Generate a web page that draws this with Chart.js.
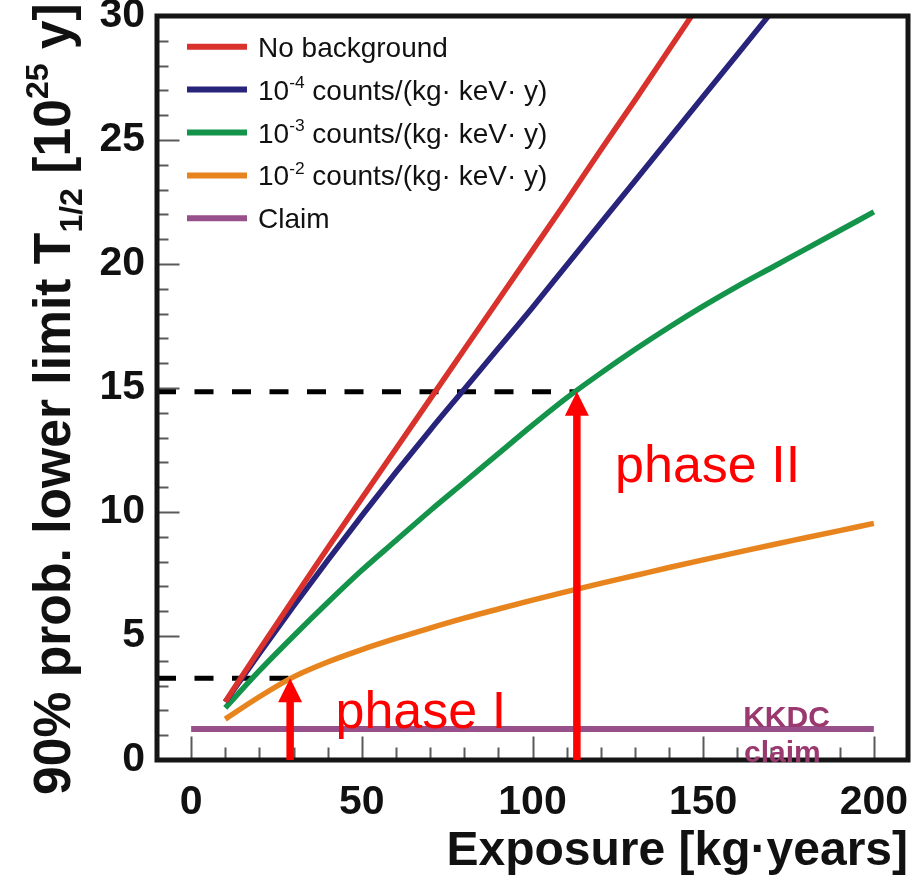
<!DOCTYPE html>
<html>
<head>
<meta charset="utf-8">
<title>Half-life limit vs exposure</title>
<script src="https://cdn.jsdelivr.net/npm/chart.js@4.4.1/dist/chart.umd.min.js"></script>
<style>
  html, body { margin: 0; padding: 0; background: #fff; }
</style>
</head>
<body>
<canvas id="chart" width="912" height="883"></canvas>
<script>
// exposure grid [kg·y] and 90% lower limits on T1/2 [10^25 y]
const exposure = [10, 20, 30, 40, 50, 60, 70, 80, 90, 100, 110, 120, 130, 140, 150, 160, 170, 180, 190, 200]
const noBackground = [2.35, 4.45, 6.5, 8.55, 10.55, 12.55, 14.55, 16.55, 18.55, 20.55, 22.55, 24.6, 26.6, 28.65, 30.7]
const bkg1e4 = [2.34, 4.3, 6.2, 8.05, 9.85, 11.6, 13.3, 14.95, 16.6, 18.25, 19.95, 21.65, 23.35, 25.05, 26.75, 28.45, 30.15]
const bkg1e3 = [2.1, 3.6, 5.0, 6.35, 7.65, 8.85, 10.05, 11.2, 12.35, 13.5, 14.6, 15.6, 16.55, 17.45, 18.3, 19.1, 19.85, 20.6, 21.35, 22.1]
const bkg1e2 = [1.65, 2.55, 3.35, 3.95, 4.45, 4.9, 5.32, 5.72, 6.09, 6.45, 6.79, 7.12, 7.44, 7.76, 8.07, 8.37, 8.67, 8.96, 9.25, 9.54]
const claimExposure = [0, 200]
const claimLimit = [1.25, 1.25]
// phase I / phase II goals
const phaseExposure = [29, 113]
const phaseLimit = [3.3, 14.85]
const xTicks = [0, 50, 100, 150, 200]
const yTicks = [0, 5, 10, 15, 20, 25, 30]

const FONT = '"Liberation Sans", Arial, Helvetica, sans-serif'
Chart.defaults.font.family = FONT

const pts = (xs, ys) => ys.map((v, i) => ({x: xs[i], y: v}))

function curve(label, values, color) {
  return {
    label: label,
    data: pts(exposure, values),
    borderColor: color,
    borderWidth: 5.5,
    pointRadius: 0,
    fill: false,
    cubicInterpolationMode: "monotone",
    clip: 0
  }
}

function guide(i) {
  return {
    data: [{x: -10, y: phaseLimit[i]}, {x: phaseExposure[i], y: phaseLimit[i]}],
    borderColor: "#000",
    borderWidth: 5,
    borderDash: [19, 18.5],
    borderCapStyle: "butt",
    pointRadius: 0,
    fill: false,
    clip: 0
  }
}

// tiny ROOT-like markup: ^{..} superscript, _{..} subscript
function parseRich(str) {
  const parts = []
  const re = /(\^|_)\{([^}]*)\}/g
  let last = 0, m
  while ((m = re.exec(str))) {
    if (m.index > last) parts.push({t: str.slice(last, m.index), s: 0})
    parts.push({t: m[2], s: m[1] === "^" ? 1 : -1})
    last = re.lastIndex
  }
  if (last < str.length) parts.push({t: str.slice(last), s: 0})
  return parts
}

function richWidth(ctx, str, size, weight) {
  let w = 0
  for (const p of parseRich(str)) {
    const fs = p.s ? size * 0.62 : size
    ctx.font = weight + " " + fs + "px " + FONT
    w += ctx.measureText(p.t).width
  }
  return w
}

function drawRich(ctx, str, x, y, size, weight) {
  ctx.textAlign = "left"
  ctx.textBaseline = "alphabetic"
  for (const p of parseRich(str)) {
    const fs = p.s ? size * 0.62 : size
    ctx.font = weight + " " + fs + "px " + FONT
    const dy = p.s === 1 ? -size * 0.42 : p.s === -1 ? size * 0.24 : 0
    ctx.fillText(p.t, x, y + dy)
    x += ctx.measureText(p.t).width
  }
}

const inwardTicks = {
  id: "inwardTicks",
  beforeDatasetsDraw(chart) {
    const {ctx, chartArea: a, scales: {x, y}} = chart
    ctx.save()
    ctx.strokeStyle = "#5a5a5a"
    ctx.lineWidth = 2
    ctx.beginPath()
    for (let v = 1; v < 30; v++) {
      const py = Math.round(y.getPixelForValue(v)) + 0.5
      ctx.moveTo(a.left, py)
      ctx.lineTo(a.left + 2.5 + (v % 5 === 0 ? 20 : 9), py)
    }
    for (let v = 0; v <= 200; v += 10) {
      const px = Math.round(x.getPixelForValue(v)) + 0.5
      ctx.moveTo(px, a.bottom)
      ctx.lineTo(px, a.bottom - 2.5 - (v % 50 === 0 ? 21 : 10))
    }
    ctx.stroke()
    ctx.restore()
  }
}

const frameAndNotes = {
  id: "frameAndNotes",
  afterDatasetsDraw(chart) {
    const {ctx, chartArea: a, scales: {x, y}} = chart
    ctx.save()

    // frame
    ctx.lineWidth = 5
    ctx.strokeStyle = "#151515"
    ctx.strokeRect(a.left, a.top, a.right - a.left, a.bottom - a.top)

    // arrows up to the goals
    ctx.fillStyle = "#ff0000"
    ctx.strokeStyle = "#ff0000"
    phaseExposure.forEach((e, i) => {
      const px = x.getPixelForValue(e)
      const tip = y.getPixelForValue(phaseLimit[i])
      const base = y.getPixelForValue(0)
      ctx.lineWidth = 7.5
      ctx.beginPath()
      ctx.moveTo(px, base)
      ctx.lineTo(px, tip + 20)
      ctx.stroke()
      ctx.beginPath()
      ctx.moveTo(px, tip)
      ctx.lineTo(px - 12, tip + 24)
      ctx.lineTo(px + 12, tip + 24)
      ctx.closePath()
      ctx.fill()
    })

    ctx.font = "52px " + FONT
    ctx.textAlign = "left"
    ctx.textBaseline = "alphabetic"
    ctx.fillText("phase I", x.getPixelForValue(42.3), y.getPixelForValue(1.3))
    ctx.fillText("phase II", x.getPixelForValue(124.2), y.getPixelForValue(11.2))

    ctx.fillStyle = "#99396f"
    ctx.font = "bold 30px " + FONT
    ctx.textAlign = "center"
    ctx.fillText("KKDC", x.getPixelForValue(174.4), y.getPixelForValue(1.35))
    ctx.fillText("claim", x.getPixelForValue(173.2), y.getPixelForValue(-0.07))

    // legend
    const items = chart.data.datasets.filter(d => d.label)
    items.forEach((d, i) => {
      const cy = 46.7 + i * 42.9
      ctx.strokeStyle = d.borderColor
      ctx.lineWidth = 6
      ctx.beginPath()
      ctx.moveTo(187, cy)
      ctx.lineTo(247, cy)
      ctx.stroke()
      ctx.fillStyle = "#111"
      drawRich(ctx, d.label, 258, cy + 10, 28, "normal")
    })

    ctx.restore()
  },
  afterDraw(chart) {
    const {ctx} = chart
    const title = "90% prob. lower limit T_{1/2} [10^{25} y]"
    const size = 50 * 792 / richWidth(ctx, title, 50, "bold")
    ctx.save()
    ctx.translate(70, 795)
    ctx.rotate(-Math.PI / 2)
    ctx.fillStyle = "#111"
    drawRich(ctx, title, 0, 0, size, "bold")
    ctx.restore()
  }
}

const ctx = document.getElementById("chart").getContext("2d")
new Chart(ctx, {
  type: "line",
  data: {
    datasets: [
      curve("No background", noBackground, "#d9312b"),
      curve("10^{-4} counts/(kg· keV· y)", bkg1e4, "#28237b"),
      curve("10^{-3} counts/(kg· keV· y)", bkg1e3, "#14944a"),
      curve("10^{-2} counts/(kg· keV· y)", bkg1e2, "#e8841e"),
      {
        label: "Claim",
        data: pts(claimExposure, claimLimit),
        borderColor: "#98508a",
        borderWidth: 6,
        pointRadius: 0,
        fill: false
      },
      guide(0),
      guide(1)
    ]
  },
  options: {
    responsive: false,
    animation: false,
    events: [],
    layout: {padding: {left: 0, right: 4, top: 16, bottom: 0}},
    plugins: {legend: {display: false}, tooltip: {enabled: false}},
    scales: {
      x: {
        type: "linear",
        min: -10,
        max: 210,
        afterBuildTicks: s => { s.ticks = xTicks.map(v => ({value: v})) },
        afterFit: s => { s.height = 123; s.paddingLeft = 0; s.paddingRight = 0 },
        grid: {display: false, drawTicks: false},
        border: {display: false},
        ticks: {color: "#111", padding: 18, maxRotation: 0, font: {size: 41, weight: "bold"}},
        title: {
          display: true,
          text: "Exposure [kg·years]",
          align: "end",
          color: "#111",
          font: {size: 48, weight: "bold"},
          padding: {top: 0, bottom: 2}
        }
      },
      y: {
        min: 0,
        max: 30,
        afterBuildTicks: s => { s.ticks = yTicks.map(v => ({value: v})) },
        afterFit: s => { s.width = 157; s.paddingTop = 0; s.paddingBottom = 0 },
        grid: {display: false, drawTicks: false},
        border: {display: false},
        ticks: {color: "#111", padding: 12, font: {size: 41, weight: "bold"}}
      }
    }
  },
  plugins: [inwardTicks, frameAndNotes]
})
</script>
</body>
</html>
